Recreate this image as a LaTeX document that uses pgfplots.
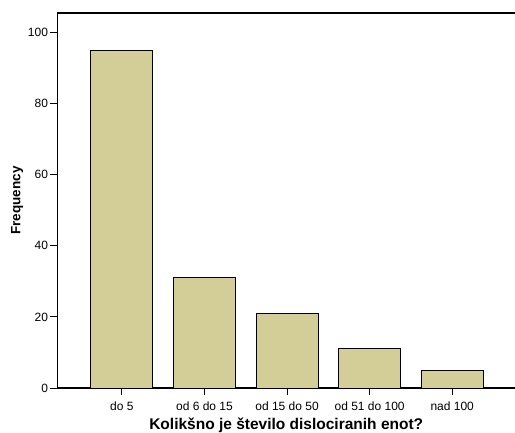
\documentclass[border=0pt]{standalone}
\usepackage{pgfplots}
\pgfplotsset{compat=1.18}
\usepackage{fontspec}
\setmainfont{Liberation Sans}
\definecolor{barfill}{RGB}{211,206,152}
\begin{document}
\begin{tikzpicture}
\begin{axis}[
  scale only axis,
  width=457.5pt, height=375pt,
  xmin=-0.78, xmax=4.76,
  ymin=0, ymax=105.5,
  axis x line=box,
  axis y line=left,
  axis line style={line width=1.3pt, -},
  xtick=data,
  xticklabels={do 5, od 6 do 15, od 15 do 50, od 51 do 100, nad 100},
  xtick pos=bottom,
  ytick={0,20,40,60,80,100},
  tick align=outside,
  major tick length=7pt,
  tick style={line width=1pt, black},
  ticklabel style={font=\fontsize{12}{14}\selectfont},
  /pgf/number format/assume math mode=true,
  xlabel={\textbf{Kolikšno je število dislociranih enot?}},
  ylabel={\textbf{Frequency}},
  xlabel style={font=\fontsize{15.5}{17}\selectfont, yshift=-1pt},
  ylabel style={font=\fontsize{13.5}{15}\selectfont, yshift=-2pt},
  yticklabel style={xshift=1pt},
  xticklabel style={yshift=-3pt},
  ybar, bar width=62pt,
]
\addplot[fill=barfill, draw=black, line width=0.9pt] coordinates {(0,95) (1,31) (2,21) (3,11) (4,5)};
\end{axis}
\pgfresetboundingbox
\path ([shift={(-57.5pt,-44pt)}]current axis.south west) rectangle ([shift={(457.5pt,388pt)}]current axis.south west);
\end{tikzpicture}
\end{document}
